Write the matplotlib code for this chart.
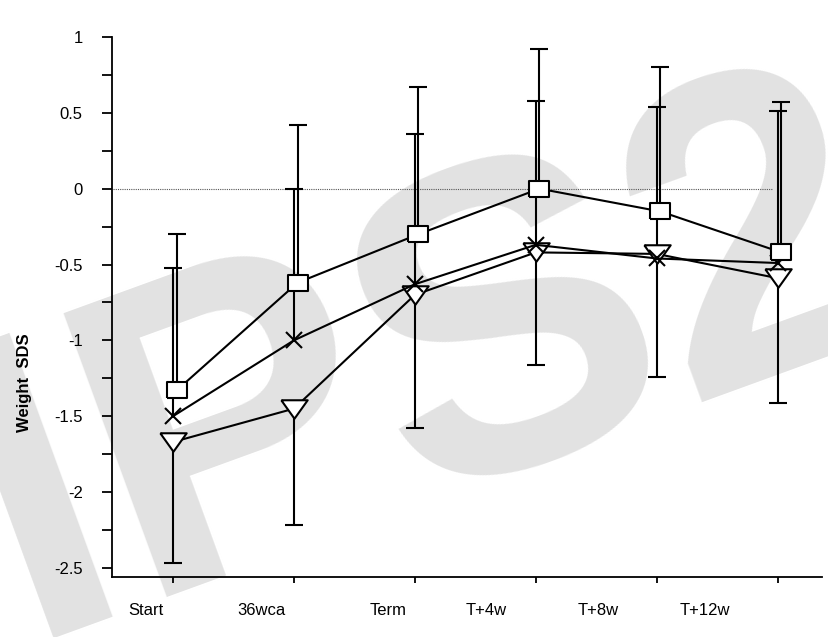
import matplotlib.pyplot as plt

plt.rcParams['font.family'] = ['Liberation Sans', 'DejaVu Sans']
plt.rcParams['axes.unicode_minus'] = False

visits = ['Start', '36wca', 'Term', 'T+4w', 'T+8w', 'T+12w']

# group means and the end of their SD bars (squares/crosses up, triangles down)
square_mean = [-1.33, -0.62, -0.30, 0.00, -0.15, -0.42]
square_upper = [-0.30, 0.42, 0.67, 0.92, 0.80, 0.57]

cross_mean = [-1.50, -1.00, -0.63, -0.37, -0.46, -0.49]
cross_upper = [-0.52, 0.00, 0.36, 0.58, 0.54, 0.51]

tri_mean = [-1.67, -1.45, -0.70, -0.42, -0.43, -0.59]
tri_lower = [-2.47, -2.22, -1.58, -1.16, -1.24, -1.41]

y_ticks = [-2.5, -2, -1.5, -1, -0.5, 0, 0.5, 1]
y_ticklabels = ['-2.5', '-2', '-1.5', '-1', '-0.5', '0', '0.5', '1']

x = list(range(len(visits)))
x_sq = [v + 0.03 for v in x]
# the category names sit a little left of their tick marks
label_x = [-0.22, 0.73, 1.78, 2.59, 3.52, 4.40]

rect = [(-1, -0.8), (1, -0.8), (1, 0.8), (-1, 0.8), (-1, -0.8)]
tri = [(-1, 0.7), (1, 0.7), (0, -0.7), (-1, 0.7)]

fig = plt.figure(figsize=(8.29, 6.37), dpi=100)
ax = fig.add_axes([0.135, 0.0942, 0.857, 0.8477])

# watermark behind the data
ax.text(0.52, 0.42, 'IPS2', transform=fig.transFigure, fontsize=315,
        fontweight='bold', color='#e2e2e2', rotation=20,
        ha='center', va='center', zorder=0.5, clip_on=False)

ax.plot([-0.5, 4.95], [0, 0], color='#555555', lw=0.8, ls=(0, (1, 1)), zorder=1)

lw = 1.5
cap = 13
ax.vlines(x, tri_lower, tri_mean, color='black', lw=lw, zorder=2)
ax.plot(x, tri_lower, ls='none', marker='_', ms=cap, mew=lw, color='black', zorder=2)
ax.vlines(x, cross_mean, cross_upper, color='black', lw=lw, zorder=2)
ax.plot(x, cross_upper, ls='none', marker='_', ms=cap, mew=lw, color='black', zorder=2)
ax.vlines(x_sq, square_mean, square_upper, color='black', lw=lw, zorder=2)
ax.plot(x_sq, square_upper, ls='none', marker='_', ms=cap, mew=lw, color='black', zorder=2)

ax.plot(x, tri_mean, color='black', lw=lw, marker=tri, ms=19, mfc='white',
        mec='black', mew=lw, zorder=3)
ax.plot(x, cross_mean, color='black', lw=lw, marker='x', ms=12,
        mec='black', mew=lw, zorder=4)
ax.plot(x_sq, square_mean, color='black', lw=lw, marker=rect, ms=14.5, mfc='white',
        mec='black', mew=lw, zorder=5)

ax.set_xlim(-0.505, 5.37)
ax.set_ylim(-2.56, 1.0)

ax.set_yticks(y_ticks, y_ticklabels)
ax.set_yticks([v + 0.25 for v in y_ticks[:-1]], minor=True)
ax.tick_params(axis='y', which='both', direction='out', length=7, width=1.3,
               labelsize=12, pad=14)

ax.set_xticks(x, [''] * len(x))
ax.set_xticks(label_x, visits, minor=True)
ax.tick_params(axis='x', which='major', direction='out', length=4, width=1.3)
ax.tick_params(axis='x', which='minor', length=0, labelsize=12, pad=19)

for side in ['top', 'right']:
    ax.spines[side].set_visible(False)
for side in ['left', 'bottom']:
    ax.spines[side].set_linewidth(1.3)

ax.set_ylabel('Weight  SDS', fontsize=12, fontweight='bold')
ax.yaxis.set_label_coords(-0.112, 0.36)

fig.savefig('out.png', dpi=100)
